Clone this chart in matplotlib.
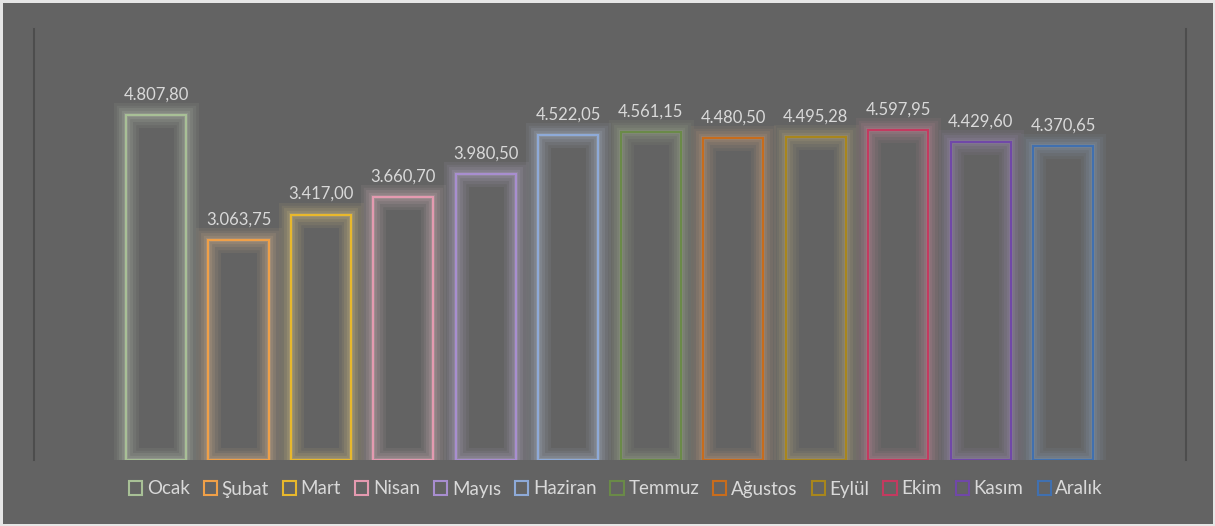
import matplotlib
matplotlib.use("Agg")
import matplotlib.pyplot as plt
from matplotlib.patches import Patch
from matplotlib.colors import to_rgb

months = ["Ocak", "Şubat", "Mart", "Nisan", "Mayıs", "Haziran",
          "Temmuz", "Ağustos", "Eylül", "Ekim", "Kasım", "Aralık"]
values = [4807.80, 3063.75, 3417.00, 3660.70, 3980.50, 4522.05,
          4561.15, 4480.50, 4495.28, 4597.95, 4429.60, 4370.65]
colors = ["#a8c096", "#f0a048", "#e8b82c", "#e49ab0", "#a88ed0", "#8eaad8",
          "#6a8a48", "#c86c1c", "#a8861c", "#c43a60", "#7048a8", "#4070b0"]

BG = "#636363"
TEXT = "#d9d9d9"
plt.rcParams["font.family"] = ["Lato", "DejaVu Sans"]


def tr_number(v):
    s = f"{v:,.2f}"
    return s.replace(",", "X").replace(".", ",").replace("X", ".")


def lighten(c, f):
    r, g, b = to_rgb(c)
    return (r + (1 - r) * f, g + (1 - g) * f, b + (1 - b) * f)


fig = plt.figure(figsize=(12.15, 5.26), dpi=100)
fig.patch.set_facecolor(BG)
fig.patch.set_edgecolor("#e6e6e6")
fig.patch.set_linewidth(2.5)

ax = fig.add_axes([34 / 1215, 66 / 526, 1152 / 1215, 431 / 526])
ax.set_facecolor(BG)

width = 0.728

for i, (v, c) in enumerate(zip(values, colors)):
    # soft halo: stacked translucent outlines of decreasing width
    glow = lighten(c, 0.45)
    for lw, a in [(18, 0.07), (14, 0.08), (10, 0.10), (6, 0.12), (3, 0.15)]:
        ax.bar(i, v, width=width, facecolor="none", edgecolor=glow,
               linewidth=lw, alpha=a, zorder=1, joinstyle="miter")
    ax.bar(i, v, width=width, facecolor="none", edgecolor=c,
           linewidth=1.5, zorder=3, label=months[i])
    ax.annotate(tr_number(v), (i, v), xytext=(0, 9), textcoords="offset points",
                ha="center", va="bottom", color=TEXT, fontsize=12)

ax.set_xlim(-1.48, 12.49)
ax.set_ylim(0, 6000)
ax.set_xticks([])
ax.set_yticks([])
for side in ["top", "bottom"]:
    ax.spines[side].set_visible(False)
for side in ["left", "right"]:
    ax.spines[side].set_color("#4d4d4d")
    ax.spines[side].set_linewidth(1.5)

handles = [Patch(facecolor="none", edgecolor=c, linewidth=1.5, label=m)
           for m, c in zip(months, colors)]
leg = fig.legend(handles=handles, loc="center",
                 bbox_to_anchor=(616 / 1215, 1 - 489 / 526),
                 ncol=12, frameon=False, fontsize=13.5, labelcolor=TEXT,
                 handlelength=0.7, handleheight=0.7, handletextpad=0.25,
                 columnspacing=0.75)

fig.savefig("out.png", dpi=100, facecolor=fig.get_facecolor(),
            edgecolor=fig.get_edgecolor())
